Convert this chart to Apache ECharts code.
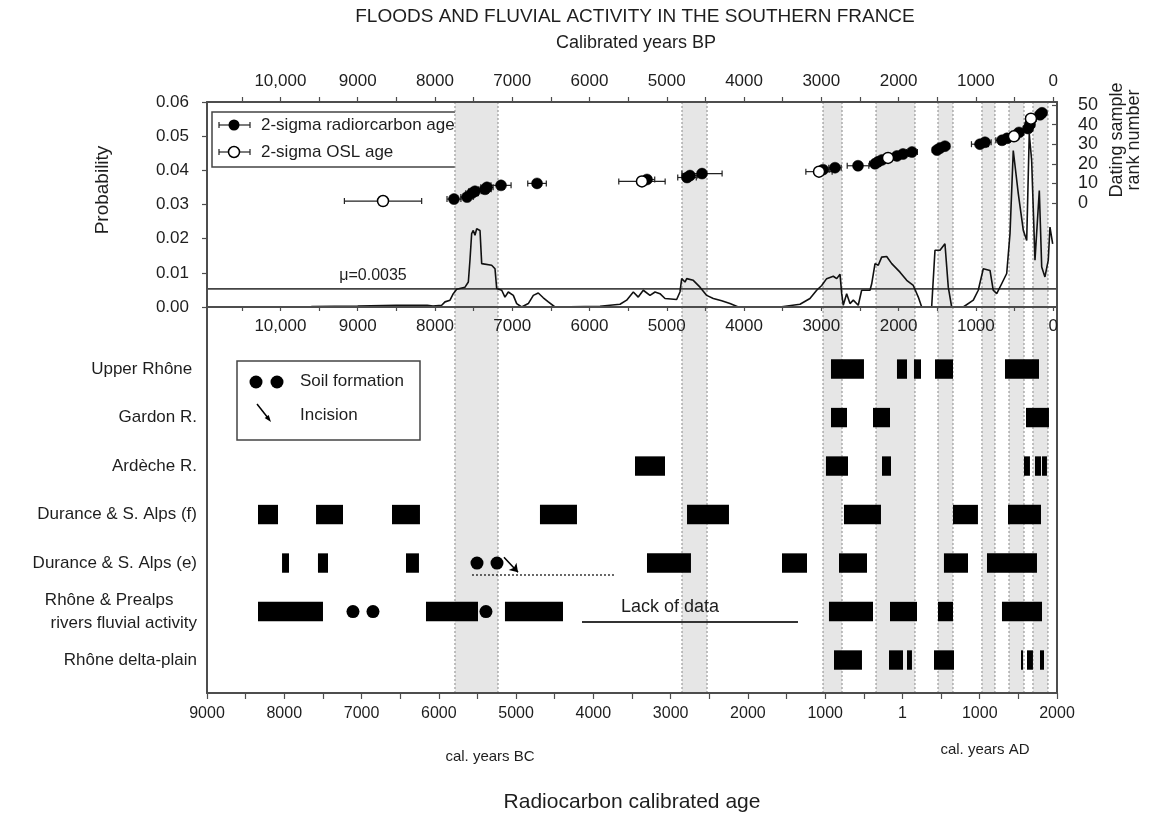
<!DOCTYPE html>
<html><head><meta charset="utf-8">
<script src="https://cdn.jsdelivr.net/npm/echarts@6/dist/echarts.min.js"></script>
<style>html,body{margin:0;padding:0;background:#fff}#c{width:1149px;height:818px}</style>
</head><body><div id="c"></div>
<script>
// ---------------- DATA ----------------
// Probability curve (x = calibrated years BP)
const probBP = [9600, 9000, 8500, 8100, 8025, 7913, 7870, 7805, 7763, 7719, 7611, 7568, 7547, 7525, 7504, 7482, 7460, 7417, 7395, 7266, 7223, 7201, 7136, 7094, 7051, 6986, 6942, 6878, 6792, 6727, 6663, 6598, 6533, 6447, 5864, 5605, 5519, 5433, 5369, 5304, 5217, 5152, 5088, 5023, 4872, 4829, 4807, 4764, 4742, 4657, 4570, 4483, 4398, 4289, 4182, 4074, 3535, 3276, 3147, 3060, 2995, 2931, 2845, 2801, 2758, 2736, 2716, 2672, 2629, 2586, 2522, 2478, 2370, 2348, 2305, 2263, 2219, 2154, 2089, 1982, 1895, 1810, 1745, 1701, 1572, 1529, 1464, 1400, 1357, 1313, 1163, 1033, 969, 904, 817, 775, 730, 666, 601, 558, 516, 451, 386, 342, 309, 278, 235, 179, 148, 106, 63, 41, 6];
const probVal = [0.0001, 0.0003, 0.0005, 0.0005, 0.0003, 0.0005, 0.0015, 0.0020, 0.0039, 0.0052, 0.0058, 0.0073, 0.0137, 0.0215, 0.0224, 0.0210, 0.0229, 0.0224, 0.0127, 0.0122, 0.0112, 0.0054, 0.0049, 0.0029, 0.0044, 0.0034, 0.0010, 0.0000, 0.0010, 0.0034, 0.0041, 0.0027, 0.0015, 0.0000, 0.0002, 0.0008, 0.0020, 0.0044, 0.0029, 0.0049, 0.0034, 0.0044, 0.0039, 0.0025, 0.0022, 0.0044, 0.0083, 0.0073, 0.0083, 0.0078, 0.0058, 0.0034, 0.0025, 0.0018, 0.0010, 0.0000, 0.0000, 0.0008, 0.0025, 0.0049, 0.0063, 0.0083, 0.0090, 0.0083, 0.0096, 0.0039, 0.0005, 0.0039, 0.0010, 0.0020, 0.0005, 0.0049, 0.0049, 0.0068, 0.0127, 0.0122, 0.0146, 0.0148, 0.0127, 0.0102, 0.0078, 0.0063, 0.0029, 0.0000, 0.0000, 0.0166, 0.0166, 0.0185, 0.0058, 0.0000, 0.0000, 0.0020, 0.0049, 0.0112, 0.0107, 0.0049, 0.0039, 0.0068, 0.0098, 0.0215, 0.0458, 0.0332, 0.0224, 0.0195, 0.0507, 0.0429, 0.0137, 0.0341, 0.0117, 0.0088, 0.0137, 0.0234, 0.0185];
const muValue = 0.0053;
const muText = 'μ=0.0035';
const muLabelPos = [8802, 0.0093];

// Dating samples (BP, rank, 2-sigma half width in years)
const c14BP   = [7754, 7585, 7521, 7482, 7352, 7327, 7145, 6679, 5256, 4738, 4700, 4544, 2978, 2823, 2525, 2305, 2267, 2215, 2021, 1943, 1827, 1503, 1464, 1400, 947, 882, 662, 597, 442, 325, 300, 170, 144];
const c14Rank = [2, 3, 5, 6, 7, 8, 9, 10, 12, 13, 14, 15, 17, 18, 19, 20, 21, 22, 24, 25, 26, 27, 28, 29, 30, 31, 32, 33, 36, 38, 40, 45, 46];
const c14Err  = [90, 80, 80, 80, 80, 80, 130, 120, 100, 120, 100, 260, 80, 80, 140, 70, 70, 70, 70, 70, 70, 60, 60, 60, 110, 80, 80, 80, 60, 60, 60, 60, 60];
const oslBP   = [8672, 5321, 3030, 2137, 507, 287];
const oslRank = [1, 11, 16, 23, 34, 43];
const oslErr  = [500, 300, 170, 80, 70, 70];

// Rapid climate change / flood bands (cal. years AD, BC negative)
const bandStart = [-5791, -2853, -1028, -342, 460, 1029, 1379, 1689];
const bandEnd   = [-5234, -2529, -782, 162, 654, 1197, 1573, 1883];

// Regional records (rows)
const rowNames = ['Upper Rhône ', 'Gardon R.', 'Ardèche R.', 'Durance & S. Alps (f)', 'Durance & S. Alps (e)', 'Rhône & Prealps     \nrivers fluvial activity', 'Rhône delta-plain'];
// fluvial activity periods: [row, start AD, end AD]
const activity = [
  [0, -925, -498], [0, -71, 59], [0, 149, 240], [0, 421, 654], [0, 1327, 1767],
  [1, -925, -718], [1, -381, -161], [1, 1599, 1896],
  [2, -3461, -3073], [2, -990, -705], [2, -265, -148], [2, 1573, 1650], [2, 1715, 1793], [2, 1806, 1870],
  [3, -8340, -8081], [3, -7589, -7240], [3, -6606, -6244], [3, -4691, -4212], [3, -2788, -2245], [3, -757, -278], [3, 654, 977], [3, 1366, 1793],
  [4, -8029, -7939], [4, -7564, -7434], [4, -6425, -6257], [4, -3306, -2737], [4, -1559, -1235], [4, -821, -459], [4, 537, 848], [4, 1094, 1741],
  [5, -8340, -7499], [5, -6166, -5493], [5, -5144, -4393], [5, -951, -381], [5, -161, 188], [5, 460, 654], [5, 1288, 1806],
  [6, -886, -524], [6, -174, 7], [6, 59, 123], [6, 408, 667], [6, 1534, 1560], [6, 1612, 1689], [6, 1780, 1832]
];
// soil formation: [AD, row]
const soilAD  = [-5506, -5247, -7111, -6852, -5390];
const soilRow = [4, 4, 5, 5, 5];
// incision arrow, incision dotted level, lack of data line: [AD, rowPos]
const incisionArrow = [[-5157, 3.88], [-4975, 4.19]];
const incisionLevel = [[-5571, 4.25], [-3720, 4.25]];
const lackOfData = [[-4147, 5.21], [-1352, 5.21]];
const lackOfDataLabel = [-3008, 4.9];

// Axis tick labels
const bpLabelValues = [10000, 9000, 8000, 7000, 6000, 5000, 4000, 3000, 2000, 1000, 0];
const bpLabelText = ['10,000', '9000', '8000', '7000', '6000', '5000', '4000', '3000', '2000', '1000', '0'];
const bpTickValues = [10500, 10000, 9500, 9000, 8500, 8000, 7500, 7000, 6500, 6000, 5500, 5000, 4500, 4000, 3500, 3000, 2500, 2000, 1500, 1000, 500, 0];
const adLabelValues = [-9000, -8000, -7000, -6000, -5000, -4000, -3000, -2000, -1000, 0, 1000, 2000];
const adLabelText = ['9000', '8000', '7000', '6000', '5000', '4000', '3000', '2000', '1000', '1', '1000', '2000'];

// ---------------- CHART ----------------
const FONT = '"Liberation Sans", Arial, Helvetica, sans-serif';
const AXC = '#4d4d4d';
const TXT = '#1e1e1e';
const BP_MIN = 1950 - 2000, BP_MAX = 1950 + 9000;   // same span as AD axis
const BAR_H = 0.4;

const bandsAD = bandStart.map((s, i) => [s, bandEnd[i]]);
const bandsBP = bandStart.map((s, i) => [1950 - s, 1950 - bandEnd[i]]);

function renderBand(params, api) {
  const cs = params.coordSys;
  const a = api.coord([api.value(0), api.value(2)])[0];
  const b = api.coord([api.value(1), api.value(2)])[0];
  const x0 = Math.min(a, b), x1 = Math.max(a, b);
  const ls = {stroke: '#8a8a8a', lineWidth: 1, lineDash: [2, 2]};
  return {type: 'group', children: [
    {type: 'rect', shape: {x: x0, y: cs.y, width: x1 - x0, height: cs.height}, style: {fill: '#e6e6e6'}},
    {type: 'line', shape: {x1: x0, y1: cs.y, x2: x0, y2: cs.y + cs.height}, style: ls},
    {type: 'line', shape: {x1: x1, y1: cs.y, x2: x1, y2: cs.y + cs.height}, style: ls}
  ]};
}
function renderBar(params, api) {
  const row = api.value(0);
  const p0 = api.coord([api.value(1), row]);
  const p1 = api.coord([api.value(2), row]);
  const h = Math.abs(api.size([0, BAR_H])[1]);
  return {type: 'rect', shape: {x: p0[0], y: p0[1] - h / 2, width: p1[0] - p0[0], height: h}, style: {fill: '#000'}};
}
function renderErr(params, api) {
  const bp = api.value(0), r = api.value(1), e = api.value(2);
  const a = api.coord([bp + e, r]), b = api.coord([bp - e, r]);
  const st = {stroke: '#222', lineWidth: 1.2};
  return {type: 'group', children: [
    {type: 'line', shape: {x1: a[0], y1: a[1], x2: b[0], y2: b[1]}, style: st},
    {type: 'line', shape: {x1: a[0], y1: a[1] - 3, x2: a[0], y2: a[1] + 3}, style: st},
    {type: 'line', shape: {x1: b[0], y1: b[1] - 3, x2: b[0], y2: b[1] + 3}, style: st}
  ]};
}

const errData = c14BP.map((v, i) => [v, c14Rank[i], c14Err[i]]).concat(oslBP.map((v, i) => [v, oslRank[i], oslErr[i]]));
const axLine = {show: true, onZero: false, lineStyle: {color: AXC, width: 2}};
const lbl = (o) => Object.assign({color: TXT, fontSize: 17, fontFamily: FONT}, o);

const option = {
  animation: false,
  backgroundColor: '#ffffff',
  textStyle: {fontFamily: FONT},
  grid: [
    {left: 207, top: 102, width: 850, height: 205},
    {left: 207, top: 105, width: 850, height: 98},
    {left: 207, top: 307, width: 850, height: 386}
  ],
  xAxis: [
    {gridIndex: 0, type: 'value', position: 'top', inverse: true, min: BP_MIN, max: BP_MAX, z: 10,
     axisLine: axLine, splitLine: {show: false},
     axisTick: {show: true, inside: false, length: 5, customValues: bpTickValues, lineStyle: {color: AXC, width: 1.2}},
     axisLabel: lbl({customValues: bpLabelValues, margin: 12, formatter: v => bpLabelText[bpLabelValues.indexOf(v)]})},
    {gridIndex: 0, type: 'value', position: 'bottom', inverse: true, min: BP_MIN, max: BP_MAX, z: 10,
     axisLine: axLine, splitLine: {show: false},
     axisTick: {show: true, inside: false, length: 4, customValues: bpTickValues, lineStyle: {color: AXC, width: 1.2}},
     axisLabel: lbl({customValues: bpLabelValues, margin: 11, formatter: v => bpLabelText[bpLabelValues.indexOf(v)]})},
    {gridIndex: 1, type: 'value', inverse: true, min: BP_MIN, max: BP_MAX, show: false},
    {gridIndex: 2, type: 'value', position: 'bottom', min: -9000, max: 2000, interval: 500, z: 10,
     axisLine: axLine, splitLine: {show: false},
     axisTick: {show: true, inside: false, length: 6, lineStyle: {color: AXC, width: 1.2}},
     axisLabel: lbl({fontSize: 16, customValues: adLabelValues, margin: 13, formatter: v => adLabelText[adLabelValues.indexOf(v)]})}
  ],
  yAxis: [
    {gridIndex: 0, type: 'value', position: 'left', min: 0, max: 0.06, interval: 0.01, z: 10,
     axisLine: axLine, splitLine: {show: false},
     axisTick: {show: true, inside: false, length: 5, lineStyle: {color: AXC, width: 1.2}},
     axisLabel: lbl({margin: 18, formatter: v => v.toFixed(2)})},
    {gridIndex: 0, type: 'value', position: 'right', min: 0, max: 0.06, z: 10,
     axisLine: axLine, axisTick: {show: false}, axisLabel: {show: false}, splitLine: {show: false}},
    {gridIndex: 1, type: 'value', position: 'right', min: 0, max: 50, interval: 10, z: 10,
     axisLine: {show: false, onZero: false}, splitLine: {show: false},
     axisTick: {show: true, inside: true, length: 5, lineStyle: {color: AXC, width: 1.2}},
     axisLabel: lbl({fontSize: 18, margin: 21})},
    {gridIndex: 2, type: 'value', inverse: true, min: -1.28, max: 6.68, z: 10,
     axisLine: axLine, axisTick: {show: false}, splitLine: {show: false},
     axisLabel: lbl({customValues: [0, 1, 2, 3, 4, 5, 6], margin: 10, lineHeight: 23, formatter: v => rowNames[v]})},
    {gridIndex: 2, type: 'value', position: 'right', min: 0, max: 1, z: 10,
     axisLine: axLine, axisTick: {show: false}, axisLabel: {show: false}, splitLine: {show: false}}
  ],
  series: [
    // bands, top panel
    {type: 'custom', xAxisIndex: 0, yAxisIndex: 0, z: 1, silent: true, renderItem: renderBand,
     encode: {x: [0, 1]}, data: bandsBP.map(b => [b[0], b[1], 0])},
    // bands, lower panel
    {type: 'custom', xAxisIndex: 3, yAxisIndex: 3, z: 1, silent: true, renderItem: renderBand,
     encode: {x: [0, 1]}, data: bandsAD.map(b => [b[0], b[1], 0])},
    // mean probability line
    {type: 'line', xAxisIndex: 0, yAxisIndex: 0, z: 2, showSymbol: false, silent: true,
     lineStyle: {color: '#444', width: 1.6}, data: [[BP_MAX, muValue], [BP_MIN, muValue]]},
    // probability curve
    {type: 'line', xAxisIndex: 0, yAxisIndex: 0, z: 3, showSymbol: false, silent: true,
     lineStyle: {color: '#111', width: 1.6}, data: probBP.map((v, i) => [v, probVal[i]])},
    // mu label
    {type: 'scatter', xAxisIndex: 0, yAxisIndex: 0, z: 3, symbolSize: 1, silent: true,
     itemStyle: {color: 'rgba(0,0,0,0)', opacity: 1},
     label: {show: true, position: 'inside', formatter: muText, fontSize: 16, color: TXT, fontFamily: FONT, opacity: 1},
     data: [muLabelPos]},
    // error bars
    {type: 'custom', xAxisIndex: 2, yAxisIndex: 2, z: 4, silent: true, renderItem: renderErr,
     encode: {x: 0, y: 1}, data: errData},
    // radiocarbon
    {type: 'scatter', xAxisIndex: 2, yAxisIndex: 2, z: 5, symbolSize: 11, silent: true,
     itemStyle: {color: '#000', borderColor: '#000', borderWidth: 0.5, opacity: 1},
     data: c14BP.map((v, i) => [v, c14Rank[i]])},
    // OSL
    {type: 'scatter', xAxisIndex: 2, yAxisIndex: 2, z: 6, symbolSize: 11, silent: true,
     itemStyle: {color: '#fff', borderColor: '#000', borderWidth: 1.5, opacity: 1},
     data: oslBP.map((v, i) => [v, oslRank[i]])},
    // activity bars
    {type: 'custom', xAxisIndex: 3, yAxisIndex: 3, z: 3, silent: true, renderItem: renderBar,
     encode: {x: [1, 2], y: 0}, data: activity},
    // soil formation + lines
    {type: 'scatter', xAxisIndex: 3, yAxisIndex: 3, z: 4, symbolSize: 13, silent: true,
     itemStyle: {color: '#000', opacity: 1},
     data: soilAD.map((v, i) => [v, soilRow[i]]),
     markLine: {silent: true, symbol: ['none', 'none'], label: {show: false}, animation: false,
       data: [
         [{coord: incisionArrow[0], symbol: 'none'}, {coord: incisionArrow[1], symbol: 'arrow', symbolSize: 8,
           lineStyle: {color: '#000', width: 1.5, type: 'solid'}}],
         [{coord: incisionLevel[0]}, {coord: incisionLevel[1], lineStyle: {color: '#333', width: 1.6, type: [2, 2]}}],
         [{coord: lackOfData[0]}, {coord: lackOfData[1], lineStyle: {color: '#333', width: 1.8, type: 'solid'}}]
       ]}},
    // lack of data label
    {type: 'scatter', xAxisIndex: 3, yAxisIndex: 3, z: 4, symbolSize: 1, silent: true,
     itemStyle: {color: 'rgba(0,0,0,0)', opacity: 1},
     label: {show: true, position: 'inside', formatter: 'Lack of data', fontSize: 18, color: TXT, fontFamily: FONT, opacity: 1},
     data: [lackOfDataLabel]}
  ],
  graphic: [
    {type: 'text', x: 635, y: 17, style: {text: 'FLOODS AND FLUVIAL ACTIVITY IN THE SOUTHERN FRANCE', fontSize: 19, fill: TXT, fontFamily: FONT, align: 'center', verticalAlign: 'middle'}},
    {type: 'text', x: 636, y: 43, style: {text: 'Calibrated years BP', fontSize: 18, fill: TXT, fontFamily: FONT, align: 'center', verticalAlign: 'middle'}},
    {type: 'text', x: 103, y: 190, rotation: Math.PI / 2, style: {text: 'Probability', fontSize: 19, fill: TXT, fontFamily: FONT, align: 'center', verticalAlign: 'middle'}},
    {type: 'text', x: 1117, y: 140, rotation: Math.PI / 2, style: {text: 'Dating sample', fontSize: 18, fill: TXT, fontFamily: FONT, align: 'center', verticalAlign: 'middle'}},
    {type: 'text', x: 1134, y: 140, rotation: Math.PI / 2, style: {text: 'rank number', fontSize: 18, fill: TXT, fontFamily: FONT, align: 'center', verticalAlign: 'middle'}},
    {type: 'text', x: 490, y: 757, style: {text: 'cal. years BC', fontSize: 15, fill: TXT, fontFamily: FONT, align: 'center', verticalAlign: 'middle'}},
    {type: 'text', x: 985, y: 750, style: {text: 'cal. years AD', fontSize: 15, fill: TXT, fontFamily: FONT, align: 'center', verticalAlign: 'middle'}},
    {type: 'text', x: 632, y: 802, style: {text: 'Radiocarbon calibrated age', fontSize: 21, fill: TXT, fontFamily: FONT, align: 'center', verticalAlign: 'middle'}},
    // top legend
    {type: 'group', z: 20, children: [
      {type: 'rect', shape: {x: 212, y: 112, width: 261, height: 55}, style: {fill: '#fff', stroke: '#444', lineWidth: 1.5}},
      {type: 'line', shape: {x1: 219, y1: 125, x2: 250, y2: 125}, style: {stroke: '#222', lineWidth: 1.2}},
      {type: 'line', shape: {x1: 219, y1: 122, x2: 219, y2: 128}, style: {stroke: '#222', lineWidth: 1.2}},
      {type: 'line', shape: {x1: 250, y1: 122, x2: 250, y2: 128}, style: {stroke: '#222', lineWidth: 1.2}},
      {type: 'circle', shape: {cx: 234, cy: 125, r: 5.5}, style: {fill: '#000'}},
      {type: 'text', x: 261, y: 125, style: {text: '2-sigma radiorcarbon age', fontSize: 17, fill: TXT, fontFamily: FONT, verticalAlign: 'middle'}},
      {type: 'line', shape: {x1: 219, y1: 152, x2: 250, y2: 152}, style: {stroke: '#222', lineWidth: 1.2}},
      {type: 'line', shape: {x1: 219, y1: 149, x2: 219, y2: 155}, style: {stroke: '#222', lineWidth: 1.2}},
      {type: 'line', shape: {x1: 250, y1: 149, x2: 250, y2: 155}, style: {stroke: '#222', lineWidth: 1.2}},
      {type: 'circle', shape: {cx: 234, cy: 152, r: 5.5}, style: {fill: '#fff', stroke: '#000', lineWidth: 1.5}},
      {type: 'text', x: 261, y: 152, style: {text: '2-sigma OSL age', fontSize: 17, fill: TXT, fontFamily: FONT, verticalAlign: 'middle'}}
    ]},
    // lower legend
    {type: 'group', z: 20, children: [
      {type: 'rect', shape: {x: 237, y: 361, width: 183, height: 79}, style: {fill: '#fff', stroke: '#444', lineWidth: 1.5}},
      {type: 'circle', shape: {cx: 256, cy: 382, r: 6.5}, style: {fill: '#000'}},
      {type: 'circle', shape: {cx: 277, cy: 382, r: 6.5}, style: {fill: '#000'}},
      {type: 'text', x: 300, y: 381, style: {text: 'Soil formation', fontSize: 17, fill: TXT, fontFamily: FONT, verticalAlign: 'middle'}},
      {type: 'line', shape: {x1: 257, y1: 404, x2: 268, y2: 418}, style: {stroke: '#000', lineWidth: 1.5}},
      {type: 'polygon', shape: {points: [[271, 422], [264.7, 418], [268.7, 415]]}, style: {fill: '#000'}},
      {type: 'text', x: 300, y: 415, style: {text: 'Incision', fontSize: 17, fill: TXT, fontFamily: FONT, verticalAlign: 'middle'}}
    ]}
  ]
};

const chart = echarts.init(document.getElementById('c'));
chart.setOption(option);
</script></body></html>
